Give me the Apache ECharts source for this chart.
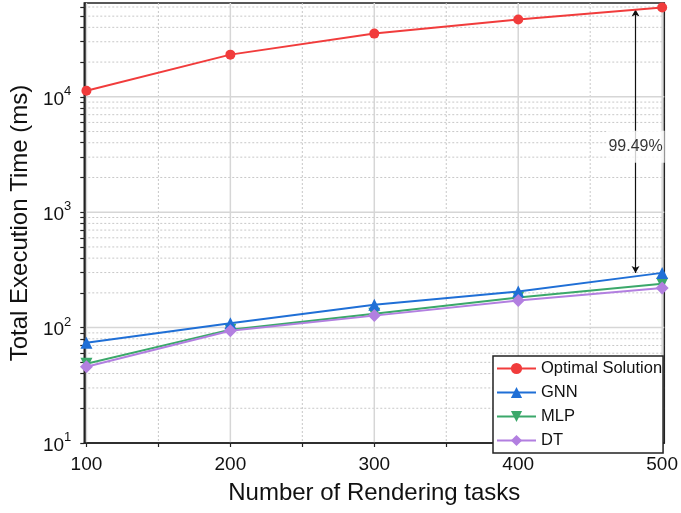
<!DOCTYPE html>
<html>
<head>
<meta charset="utf-8">
<script src="https://cdn.jsdelivr.net/npm/echarts@6/dist/echarts.min.js"></script>
<style>html,body{margin:0;padding:0;background:#fff;}#c{width:681px;height:513px;}</style>
</head>
<body>
<div id="c"></div>
<script>
const tasks = [100, 200, 300, 400, 500];
const optimal = [11300, 23200, 35300, 46800, 59500];
const gnn = [74, 109, 158, 206, 298];
const mlp = [48.6, 96, 132, 182, 240];
const dt = [45.8, 94, 127, 172, 220];

const xTickLabels = [100, 200, 300, 400, 500];
const xMinorTicks = [150, 250, 350, 450];
const yTickLabels = [10, 100, 1000, 10000];
const yMinorTicks = [20,30,40,50,60,70,80,90,200,300,400,500,600,700,800,900,
  2000,3000,4000,5000,6000,7000,8000,9000,20000,30000,40000,50000,60000];

const annotX = 481.5;
const annotTop = 57000;
const annotBottom = 298;
const annotLabelY = 3700;
const annotText = '99.49%';

const X_MIN = 98.5, X_MAX = 501.5, Y_MIN = 10, Y_MAX = 65000;

const FONT = 'Liberation Sans, Arial, sans-serif';
const colors = { opt: '#F13C3C', gnn: '#1F6FD6', mlp: '#3BA86A', dt: '#B27FE0' };

function pairs(ys) { return tasks.map((x, i) => [x, ys[i]]); }

const chart = echarts.init(document.getElementById('c'), null, { renderer: 'canvas' });

const option = {
  backgroundColor: '#fff',
  animation: false,
  textStyle: { fontFamily: FONT },
  grid: { left: 82, right: 14, top: 3, bottom: 70, show: true, borderColor: '#222', borderWidth: 1.5, backgroundColor: 'transparent' },
  legend: {
    data: ['Optimal Solution', 'GNN', 'MLP', 'DT'],
    orient: 'vertical',
    left: 493, top: 356,
    padding: [4, 1, 4, 3],
    itemGap: 7,
    itemWidth: 39, itemHeight: 14,
    backgroundColor: '#fff',
    borderColor: '#222', borderWidth: 1.5, borderRadius: 0,
    textStyle: { fontSize: 16.5, color: '#111', fontFamily: FONT, padding: [0, 0, 0, 0] }
  },
  xAxis: {
    type: 'value', min: X_MIN, max: X_MAX,
    name: 'Number of Rendering tasks', nameLocation: 'middle', nameGap: 38,
    nameTextStyle: { fontSize: 24, color: '#111', fontFamily: FONT },
    axisLine: { show: true, lineStyle: { color: '#222', width: 1.5 } },
    axisTick: { show: true, length: 4, lineStyle: { color: '#222', width: 1.2 }, customValues: xTickLabels.concat(xMinorTicks) },
    axisLabel: { fontSize: 19, color: '#111', margin: 12, customValues: xTickLabels, fontFamily: FONT },
    splitLine: { show: false }
  },
  yAxis: {
    type: 'log', logBase: 10, min: Y_MIN, max: Y_MAX,
    name: 'Total Execution Time (ms)', nameLocation: 'middle', nameGap: 38,
    nameTextStyle: { fontSize: 24, color: '#111', fontFamily: FONT },
    axisLine: { show: true, lineStyle: { color: '#222', width: 1.5 } },
    axisTick: { show: true, length: 4, lineStyle: { color: '#222', width: 1.2 }, customValues: yTickLabels.concat(yMinorTicks) },
    axisLabel: {
      customValues: yTickLabels, margin: 13, color: '#111',
      formatter: v => '{b|10}{s|' + Math.round(Math.log10(v)) + '}',
      rich: {
        b: { fontSize: 19, color: '#111', fontFamily: FONT, lineHeight: 24, verticalAlign: 'bottom' },
        s: { fontSize: 13, color: '#111', fontFamily: FONT, lineHeight: 24, verticalAlign: 'top' }
      }
    },
    splitLine: { show: false }
  },
  series: [
    {
      type: 'custom', name: 'grid', silent: true, z: 0,
      coordinateSystem: 'cartesian2d',
      data: [[X_MIN, Y_MIN]],
      renderItem: function (params, api) {
        const cs = params.coordSys;
        const left = cs.x, right = cs.x + cs.width, top = cs.y, bottom = cs.y + cs.height;
        const children = [];
        const major = { stroke: '#d6d6d6', lineWidth: 1.5 };
        const minor = { stroke: '#c8c8c8', lineWidth: 1, lineDash: [2, 2] };
        xMinorTicks.forEach(v => {
          const px = api.coord([v, Y_MIN])[0];
          children.push({ type: 'line', shape: { x1: px, y1: top, x2: px, y2: bottom }, style: minor });
        });
        yMinorTicks.forEach(v => {
          const py = api.coord([X_MIN, v])[1];
          children.push({ type: 'line', shape: { x1: left, y1: py, x2: right, y2: py }, style: minor });
        });
        xTickLabels.forEach(v => {
          const px = api.coord([v, Y_MIN])[0];
          children.push({ type: 'line', shape: { x1: px, y1: top, x2: px, y2: bottom }, style: major });
        });
        yTickLabels.slice(1).forEach(v => {
          const py = api.coord([X_MIN, v])[1];
          children.push({ type: 'line', shape: { x1: left, y1: py, x2: right, y2: py }, style: major });
        });
        return { type: 'group', children: children };
      }
    },
    {
      name: 'Optimal Solution', type: 'line', data: pairs(optimal), z: 5,
      symbol: 'circle', symbolSize: 10,
      lineStyle: { color: colors.opt, width: 2 }, itemStyle: { color: colors.opt },
      markLine: {
        silent: true, symbol: ['arrow', 'arrow'], symbolSize: [6, 7],
        lineStyle: { color: '#111', width: 1.2, type: 'solid' },
        label: { show: false },
        data: [[{ coord: [annotX, annotTop] }, { coord: [annotX, annotBottom] }]]
      }
    },
    {
      name: 'GNN', type: 'line', data: pairs(gnn), z: 4,
      symbol: 'triangle', symbolSize: 12,
      lineStyle: { color: colors.gnn, width: 2 }, itemStyle: { color: colors.gnn }
    },
    {
      name: 'MLP', type: 'line', data: pairs(mlp), z: 3,
      symbol: 'path://M0,0L2,0L1,1.73Z', symbolSize: 12,
      lineStyle: { color: colors.mlp, width: 2 }, itemStyle: { color: colors.mlp }
    },
    {
      name: 'DT', type: 'line', data: pairs(dt), z: 4,
      symbol: 'diamond', symbolSize: 13,
      lineStyle: { color: colors.dt, width: 2 }, itemStyle: { color: colors.dt }
    },
    {
      type: 'scatter', name: 'annotation', silent: true, z: 10,
      symbolSize: 0,
      data: [[annotX, annotLabelY]],
      label: {
        show: true, position: 'inside', formatter: annotText,
        fontSize: 16, color: '#000', fontFamily: FONT,
        backgroundColor: '#fff', padding: [8, 2]
      }
    }
  ]
};
chart.setOption(option);
</script>
</body>
</html>
